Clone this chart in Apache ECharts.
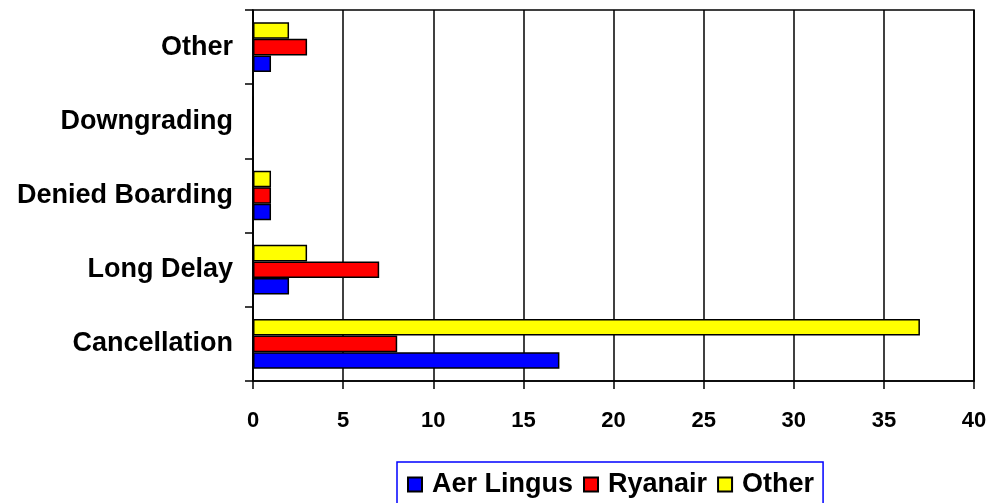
<!DOCTYPE html>
<html>
<head>
<meta charset="utf-8">
<script src="https://cdn.jsdelivr.net/npm/echarts@6/dist/echarts.min.js"></script>
<style>html,body{margin:0;padding:0;background:#fff}#c{width:994px;height:503px}</style>
</head>
<body>
<div id="c"></div>
<script>
const categories = ['Cancellation', 'Long Delay', 'Denied Boarding', 'Downgrading', 'Other'];
const aerLingus = [17, 2, 1, 0, 1];
const ryanair = [8, 7, 1, 0, 3];
const otherAirlines = [37, 3, 1, 0, 2];
const xTicks = [0, 5, 10, 15, 20, 25, 30, 35, 40];

const FONT = '"Liberation Sans", Arial, sans-serif';
const chart = echarts.init(document.getElementById('c'), null, {renderer: 'canvas'});
const barStyle = c => ({color: c, borderColor: '#000', borderWidth: 1.5});
chart.setOption({
  animation: false,
  backgroundColor: '#fff',
  textStyle: {fontFamily: FONT},
  grid: {left: 253, right: 20, top: 10, bottom: 122, show: true, borderColor: '#000', borderWidth: 1.5, backgroundColor: 'transparent'},
  legend: {
    left: 397, top: 462,
    padding: [9, 9, 12, 10],
    borderColor: '#0000ff', borderWidth: 1.5,
    icon: 'rect',
    itemWidth: 14, itemHeight: 14, itemGap: 10,
    textStyle: {fontFamily: FONT, fontWeight: 'bold', fontSize: 27, color: '#000', padding: [0, 0, 0, 5]},
    data: ['Aer Lingus', 'Ryanair', 'Other']
  },
  xAxis: {
    type: 'value', min: xTicks[0], max: xTicks[xTicks.length - 1], interval: 5,
    axisLine: {show: true, lineStyle: {color: '#000', width: 1.5}},
    axisTick: {show: true, length: 8, lineStyle: {color: '#000', width: 1.5}},
    splitLine: {show: true, lineStyle: {color: '#000', width: 1.5}},
    axisLabel: {fontFamily: FONT, fontWeight: 'bold', fontSize: 22, color: '#000', margin: 29}
  },
  yAxis: {
    type: 'category', data: categories,
    axisLine: {show: true, lineStyle: {color: '#000', width: 1.5}},
    axisTick: {show: true, length: 8, lineStyle: {color: '#000', width: 1.5}},
    axisLabel: {fontFamily: FONT, fontWeight: 'bold', fontSize: 27, color: '#000', margin: 20}
  },
  series: [
    {name: 'Other', type: 'bar', data: otherAirlines, itemStyle: barStyle('#ffff00'), barGap: '0%', barCategoryGap: '33%'},
    {name: 'Ryanair', type: 'bar', data: ryanair, itemStyle: barStyle('#ff0000'), barGap: '0%', barCategoryGap: '33%'},
    {name: 'Aer Lingus', type: 'bar', data: aerLingus, itemStyle: barStyle('#0000ff'), barGap: '0%', barCategoryGap: '33%'}
  ]
});
</script>
</body>
</html>
